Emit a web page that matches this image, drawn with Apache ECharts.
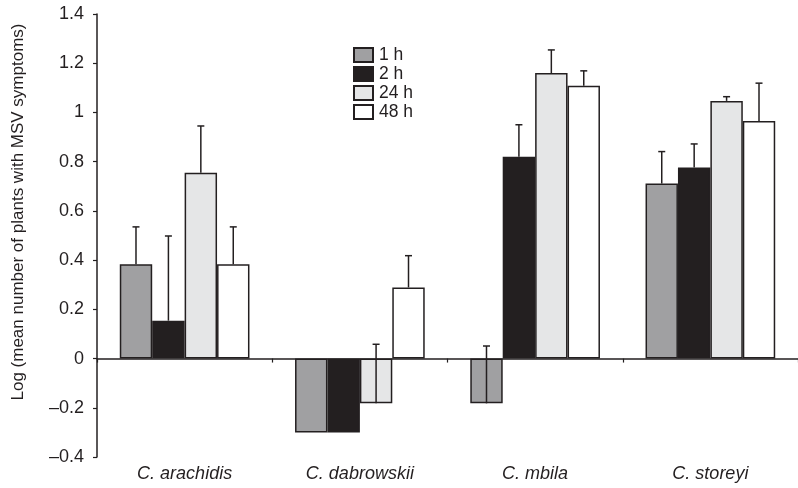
<!DOCTYPE html>
<html><head><meta charset="utf-8">
<script src="https://cdn.jsdelivr.net/npm/echarts@6/dist/echarts.min.js"></script>
<style>html,body{margin:0;padding:0;background:#fff}#c{width:798px;height:488px}</style>
</head><body><div id="c"></div>
<script>
var categories = ['C. arachidis', 'C. dabrowskii', 'C. mbila', 'C. storeyi'];
var seriesNames = ['1 h', '2 h', '24 h', '48 h'];
var v1h = [0.383, -0.30, -0.182, 0.711];
var e1h = [0.152, 0, 0.233, 0.130];
var v2h = [0.154, -0.30, 0.820, 0.776];
var e2h = [0.344, 0, 0.130, 0.096];
var v24h = [0.755, -0.182, 1.160, 1.047];
var e24h = [0.190, 0.240, 0.094, 0.017];
var v48h = [0.383, 0.289, 1.108, 0.965];
var e48h = [0.152, 0.129, 0.061, 0.154];
var yTicks = [-0.4, -0.2, 0, 0.2, 0.4, 0.6, 0.8, 1, 1.2, 1.4];
var yTitle = 'Log (mean number of plants with MSV symptoms)';

var values = [v1h, v2h, v24h, v48h];
var errors = [e1h, e2h, e24h, e48h];
var colors = ['#a0a0a2', '#231f20', '#e5e6e7', '#ffffff'];
var GAP = 0.26;
var FONT = 'Liberation Sans, Arial, Helvetica, sans-serif';

var chart = echarts.init(document.getElementById('c'));
var series = [];
values.forEach(function (vals, i) {
  series.push({
    name: seriesNames[i], type: 'bar', data: vals, xAxisIndex: 0,
    barGap: '0%', barCategoryGap: (GAP * 100) + '%',
    itemStyle: { color: colors[i], borderColor: '#231f20', borderWidth: 1.5 },
    emphasis: { disabled: true }, z: 2
  });
});
values.forEach(function (vals, i) {
  var d = vals.map(function (v, k) { return [k, v, v + errors[i][k]]; });
  series.push({
    type: 'custom', xAxisIndex: 0, data: d, z: 5, silent: true,
    renderItem: function (params, api) {
      var k = api.value(0);
      var lo = api.coord([k, api.value(1)]);
      var hi = api.coord([k, api.value(2)]);
      var band = api.size([1, 0])[0];
      var bw = band * (1 - GAP) / 4;
      var x = lo[0] + (i - 1.5) * bw;
      if (Math.abs(api.value(2) - api.value(1)) < 1e-9) return null;
      var st = { stroke: '#231f20', lineWidth: 1.5 };
      return { type: 'group', children: [
        { type: 'line', shape: { x1: x, y1: lo[1], x2: x, y2: hi[1] }, style: st },
        { type: 'line', shape: { x1: x - 3.5, y1: hi[1], x2: x + 3.5, y2: hi[1] }, style: st }
      ] };
    }
  });
});

chart.setOption({
  animation: false,
  backgroundColor: '#ffffff',
  textStyle: { fontFamily: FONT },
  graphic: [{
    type: 'text', x: 18, y: 212, rotation: Math.PI / 2, silent: true,
    style: { text: yTitle, fontSize: 17, fontFamily: FONT, fill: '#231f20', align: 'center', verticalAlign: 'middle' }
  }],
  legend: {
    data: seriesNames.map(function (n) { return { name: n, icon: 'rect' }; }),
    orient: 'vertical', left: 353, top: 46, padding: 0,
    itemWidth: 19, itemHeight: 14, itemGap: 1,
    textStyle: { fontSize: 17.5, color: '#231f20', fontFamily: FONT, padding: [0, 0, 0, 1] },
    selectedMode: false
  },
  grid: { left: 97, right: 0, top: 14, bottom: 31, containLabel: false },
  xAxis: [{
    type: 'category', data: categories, position: 'bottom',
    axisLine: { show: false, onZero: false }, axisTick: { show: false },
    axisLabel: { fontSize: 18, fontStyle: 'italic', color: '#231f20', margin: 8, fontFamily: FONT }
  }, {
    type: 'category', data: categories, position: 'top',
    axisLine: { show: true, onZero: true, lineStyle: { color: '#231f20', width: 1.5 } },
    axisTick: { show: true, inside: true, length: 4, lineStyle: { color: '#231f20', width: 1.2 } },
    axisLabel: { show: false }
  }],
  yAxis: {
    type: 'value', min: -0.4, max: 1.4, interval: 0.2,
    axisLine: { show: true, lineStyle: { color: '#231f20', width: 1.5 } },
    axisTick: { show: true, length: 4, lineStyle: { color: '#231f20', width: 1.2 } },
    splitLine: { show: false },
    axisLabel: {
      fontSize: 18, color: '#231f20', margin: 13, fontFamily: FONT,
      formatter: function (v) {
        var r = Math.round(v * 10) / 10;
        return String(r).replace('-', '\u2013');
      }
    }
  },
  series: series
});
</script></body></html>
